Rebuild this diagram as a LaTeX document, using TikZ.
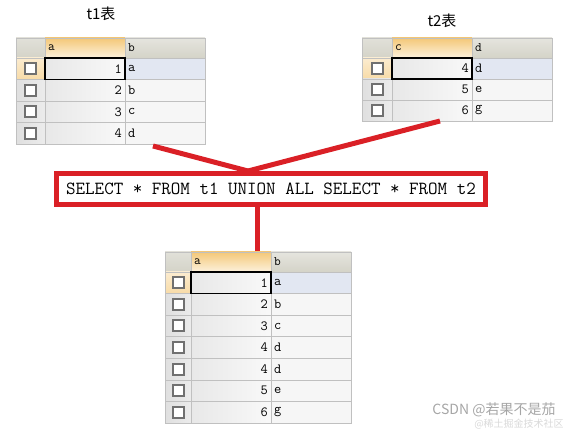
\documentclass[tikz,border=0pt]{standalone}
\usepackage{fontspec}
\newfontfamily\cjk{Noto Sans CJK SC}
\usetikzlibrary{positioning}

\definecolor{sqlred}{RGB}{218,32,38}
\definecolor{gridgray}{RGB}{192,192,192}
\definecolor{hdgray}{RGB}{212,211,200}
\definecolor{hdorange}{RGB}{244,200,120}
\definecolor{selblue}{RGB}{226,231,242}
\definecolor{cellgray}{RGB}{232,232,232}
\definecolor{boxgray}{RGB}{112,112,112}

\tikzset{
  redline/.style={sqlred, line width=5pt},
  sqlbox/.style={draw=sqlred, line width=5pt, fill=white, minimum width=429pt,
    minimum height=31pt, inner sep=0pt, font=\fontsize{18.5}{18.5}\selectfont\ttfamily},
  gridline/.style={gridgray, line width=0.8pt},
  chkbox/.style={draw=boxgray, fill=white, line width=2pt},
  focus/.style={draw=black, line width=1.6pt},
  cellnum/.style={anchor=east, inner sep=1pt, font=\fontsize{14}{14}\selectfont\ttfamily},
  celllet/.style={anchor=west, inner sep=1pt, font=\fontsize{14}{14}\selectfont\ttfamily},
  hdtxt/.style={anchor=west, inner sep=1pt, font=\fontsize{13}{13}\selectfont\ttfamily},
  tabtitle/.style={font=\cjk\fontsize{15}{15}\selectfont},
  wmtext/.style={gray!70, font=\cjk\fontsize{14}{14}\selectfont},
  wmfaint/.style={gray!30, font=\cjk\fontsize{10}{10}\selectfont}
}

% #1 name, #2 x, #3 y, #4 box column width, #5 row height, #6/#7 headers, #8 rows
\newcommand{\gridtable}[8]{%
\begin{scope}[shift={(#2,#3)}]
  \pgfmathsetmacro\ca{#4}\pgfmathsetmacro\cb{#4+80}\pgfmathsetmacro\cc{#4+160}
  % header
  \shade[top color=hdgray!70, bottom color=hdgray] (0,0) rectangle (\ca,20);
  \shade[top color=hdorange, bottom color=hdorange!25] (\ca,0) rectangle (\cb,20);
  \shade[top color=hdgray!60, bottom color=hdgray] (\cb,0) rectangle (\cc,20);
  \node[hdtxt] (#1-ha) at (\ca+2,10) {#6};
  \node[hdtxt] (#1-hb) at (\cb+2,10) {#7};
  % rows
  \foreach [count=\i] \v/\w in {#8} {
    \pgfmathsetmacro\ya{20+(\i-1)*#5}
    \pgfmathsetmacro\yb{20+\i*#5}
    \pgfmathsetmacro\yc{20+(\i-0.5)*#5}
    \ifnum\i=1
      \shade[top color=hdorange!35, bottom color=hdorange!65] (0,\ya) rectangle (\ca,\yb);
      \fill[selblue] (\cb,\ya) rectangle (\cc,\yb);
    \else
      \shade[left color=gray!25, right color=gray!15] (0,\ya) rectangle (\ca,\yb);
      \fill[gray!7] (\cb,\ya) rectangle (\cc,\yb);
    \fi
    \shade[left color=cellgray, right color=gray!5] (\ca,\ya) rectangle (\cb,\yb);
    \draw[chkbox] (\ca/2-5.5,\yc-5.5) rectangle (\ca/2+5.5,\yc+5.5);
    \node[cellnum] (#1-v\i) at (\cb-2,\yc) {\v};
    \node[celllet] (#1-w\i) at (\cb+2,\yc) {\w};
    \xdef\nrows{\i}
  }
  % grid
  \foreach \i in {1,...,\nrows}
    \draw[gridline] (0,20+\i*#5) -- (\cc,20+\i*#5);
  \pgfmathsetmacro\ybot{20+\nrows*#5}
  \draw[gridline] (0,0) rectangle (\cc,\ybot);
  \draw[gridline] (0,20) -- (\cc,20);
  \draw[gridline] (\ca,0) -- (\ca,\ybot);
  \draw[gridline] (\cb,0) -- (\cb,\ybot);
  \draw[focus] (\ca,20) rectangle (\cb,20+#5);
\end{scope}}

\begin{document}
\begin{tikzpicture}[x=1pt,y=-1pt]
\useasboundingbox (0,0) rectangle (581,430);

% source tables
\node[tabtitle] (t1title) at (101,14) {t1表};
\node[tabtitle] (t2title) at (442,21) {t2表};
\gridtable{t1}{16}{38}{29}{21.5}{a}{b}{1/a,2/b,3/c,4/d}
\gridtable{t2}{362}{38}{30}{21}{c}{d}{4/d,5/e,6/g}

% query
\node[sqlbox] (sql) at (271,189) {SELECT * FROM t1 UNION ALL SELECT * FROM t2};

\coordinate (t1out) at (153,146);
\coordinate (t2out) at (440,121);
\coordinate (join) at ([xshift=-23pt]sql.north);
\coordinate (resin) at (257,252);
\draw[redline] (t1out) -- (join);
\draw[redline] (t2out) -- (join);
\draw[redline] (sql.south -| resin) -- (resin);

% result
\gridtable{res}{165}{252}{26}{21.6}{a}{b}{1/a,2/b,3/c,4/d,4/d,5/e,6/g}

\node[wmtext] (wm) at (494,410) {CSDN @若果不是茄};
\node[wmfaint] (wmb) at (519,424) {@稀土掘金技术社区};
\end{tikzpicture}
\end{document}
